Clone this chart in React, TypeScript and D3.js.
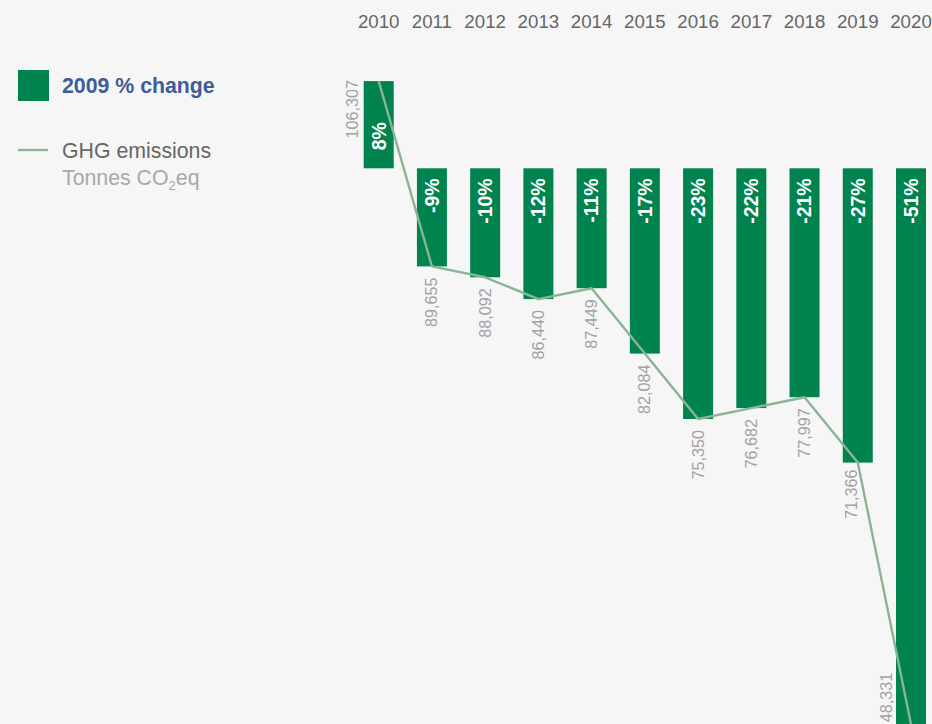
import React from "react";
import * as d3 from "d3";

const years = ["2010", "2011", "2012", "2013", "2014", "2015", "2016", "2017", "2018", "2019", "2020"];
const pctChange = [8, -9, -10, -12, -11, -17, -23, -22, -21, -27, -51];
const emissions = [106307, 89655, 88092, 86440, 87449, 82084, 75350, 76682, 77997, 71366, 48331];

const W = 932;
const H = 724;
const BG = "#f6f6f6";
const GREEN = "#00834f";
const LINE = "#8ab594";
const FONT = "'Liberation Sans', Arial, Helvetica, sans-serif";

export default function App() {
  const x = d3.scalePoint<string>().domain(years).range([378.7, 911]);
  const y = d3.scaleLinear().domain([0, -51]).range([168.3, 724.2]);
  const barW = 30;
  const fmt = d3.format(",");
  const pts: [number, number][] = years.map((yr, i) => [x(yr) as number, y(pctChange[i])]);
  const linePath = d3.line()(pts) || "";
  const n = years.length;

  return (
    <div style={{ position: "absolute", left: 0, top: 0, width: W, height: H, background: BG }}>
      <svg width={W} height={H} style={{ display: "block", fontFamily: FONT }}>
        <rect x={0} y={0} width={W} height={H} fill={BG} />
        {/* year labels */}
        {years.map((yr) => (
          <text key={yr} x={x(yr)} y={28} textAnchor="middle" fontSize={18.7} fill="#666">
            {yr}
          </text>
        ))}
        {/* bars */}
        {years.map((yr, i) => {
          const v = pctChange[i];
          const y0 = y(0);
          const y1 = y(v);
          return (
            <rect
              key={"b" + yr}
              x={(x(yr) as number) - barW / 2}
              y={Math.min(y0, y1)}
              width={barW}
              height={Math.abs(y1 - y0)}
              fill={GREEN}
            />
          );
        })}
        {/* line */}
        <path d={linePath} fill="none" stroke={LINE} strokeWidth={2.4} strokeLinejoin="round" />
        {/* percent labels */}
        {years.map((yr, i) => {
          const v = pctChange[i];
          const cx = (x(yr) as number) + 6.8;
          const pos = v >= 0;
          const ty = pos ? y(0) - 18 : y(0) + 10;
          return (
            <text
              key={"p" + yr}
              transform={`translate(${cx},${ty}) rotate(-90)`}
              textAnchor={pos ? "start" : "end"}
              fontSize={19.5}
              fontWeight="bold"
              fill="#fff"
            >
              {`${v}%`}
            </text>
          );
        })}
        {/* emission labels */}
        {years.map((yr, i) => {
          const [px, py] = pts[i];
          let tx = px + 5.5;
          let ty = py + 11;
          let anchor = "end";
          if (i === 0) {
            tx = px - 21;
            ty = py - 1;
          } else if (i === n - 1) {
            tx = px - 19.5;
            ty = py - 2;
            anchor = "start";
          } else if (i === n - 2) {
            tx = px - 0.5;
            ty = py + 7;
          }
          return (
            <text
              key={"e" + yr}
              transform={`translate(${tx},${ty}) rotate(-90)`}
              textAnchor={anchor}
              fontSize={16.2}
              fill="#a3a3a3"
            >
              {fmt(emissions[i])}
            </text>
          );
        })}
        {/* legend */}
        <rect x={18} y={70} width={31} height={31} fill={GREEN} />
        <text x={62} y={92.5} fontSize={21.3} fontWeight="bold" fill="#3e5c98">
          2009 % change
        </text>
        <line x1={18} x2={48} y1={150} y2={150} stroke={LINE} strokeWidth={2.4} />
        <text x={62} y={157.5} fontSize={21.3} fill="#666">
          GHG emissions
        </text>
        <text x={62} y={185} fontSize={21.3} fill="#a8a8a8">
          Tonnes CO
          <tspan fontSize={13} dy={5}>2</tspan>
          <tspan dy={-5}>eq</tspan>
        </text>
      </svg>
    </div>
  );
}
